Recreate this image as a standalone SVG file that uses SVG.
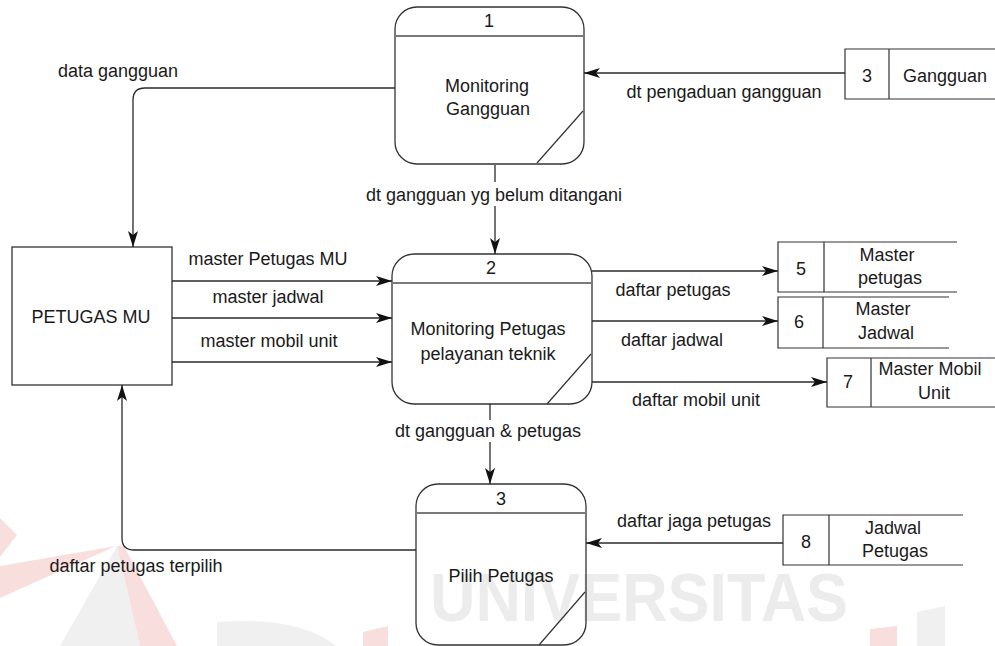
<svg xmlns="http://www.w3.org/2000/svg" width="995" height="646" viewBox="0 0 995 646">
  <style>
    text { font-family: "Liberation Sans", Arial, sans-serif; font-size: 18px; fill: #1a1a1a; }
    .c { text-anchor: middle; }
    .box { fill: none; stroke: #333; stroke-width: 1.3; }
    .hdr { stroke: #7a7a7a; stroke-width: 2; }
    .thin { stroke: #333; stroke-width: 1.2; fill: none; }
    .flow { fill: none; stroke: #2a2a2a; stroke-width: 1.3; marker-end: url(#arrow); }
    .wm-pink { fill: #f9dede; }
    .wm-gray { fill: #f0f0f0; }
  </style>
  <defs>
    <marker id="arrow" viewBox="0 0 16 10" refX="16" refY="5" markerWidth="16" markerHeight="10" markerUnits="userSpaceOnUse" orient="auto">
      <path d="M0,0 L16,5 L0,10 L4,5 z" fill="#111"/>
    </marker>
  </defs>

  <rect width="995" height="646" fill="#fff"/>

  <!-- background watermark -->
  <g id="watermark">
    <polygon class="wm-pink" points="0,518 17,535 0,557"/>
    <polygon class="wm-pink" points="0,566 116,546 0,598"/>
    <polygon class="wm-gray" points="117,546 60,646 140,646"/>
    <polygon class="wm-pink" points="117,546 124,546 177,646 140,646"/>
    <path class="wm-gray" d="M217,646 L217,622 Q300,616 336,646 Z"/>
    <polygon class="wm-pink" points="363,632 388,626 388,646 363,646"/>
    <polygon class="wm-pink" points="870,629 897,626 897,646 870,646"/>
    <polygon class="wm-gray" points="917,612 945,606 945,646 917,646"/>
    <text x="430" y="621" textLength="418" lengthAdjust="spacingAndGlyphs" style="font-size:68px;font-weight:bold;fill:#ececec">UNIVERSITAS</text>
  </g>

  <!-- external entity -->
  <g id="petugas-mu">
    <rect class="box" x="12" y="247" width="160" height="138"/>
    <text class="c" x="91" y="323">PETUGAS MU</text>
  </g>

  <!-- processes -->
  <g id="proc-1">
    <rect class="box" x="395" y="7" width="189" height="157" rx="22"/>
    <line class="hdr" x1="395" y1="36" x2="584" y2="36"/>
    <line class="thin" x1="583" y1="111" x2="537" y2="163"/>
    <text class="c" x="489" y="27">1</text>
    <text class="c" x="487" y="92">Monitoring</text>
    <text class="c" x="488" y="115">Gangguan</text>
  </g>

  <g id="proc-2">
    <rect class="box" x="392" y="254" width="200" height="150" rx="22"/>
    <line class="hdr" x1="392" y1="283" x2="592" y2="283"/>
    <line class="thin" x1="591" y1="354" x2="547" y2="404"/>
    <text class="c" x="491" y="274">2</text>
    <text class="c" x="488" y="335">Monitoring Petugas</text>
    <text class="c" x="488" y="360">pelayanan teknik</text>
  </g>

  <g id="proc-3">
    <rect class="box" x="416" y="484" width="170" height="161" rx="22"/>
    <line class="hdr" x1="416" y1="513" x2="586" y2="513"/>
    <line class="thin" x1="585" y1="592" x2="539" y2="645"/>
    <text class="c" x="501" y="505">3</text>
    <text class="c" x="501" y="582">Pilih Petugas</text>
  </g>

  <!-- data stores -->
  <g id="store-3">
    <path class="thin" d="M995,49 H845 V99 H995 M889,49 V99"/>
    <text class="c" x="867" y="82">3</text>
    <text class="c" x="945" y="82">Gangguan</text>
  </g>

  <g id="store-5">
    <path class="thin" d="M957,242 H778 V292 H957 M824,242 V292"/>
    <text class="c" x="801" y="275">5</text>
    <text class="c" x="887" y="261">Master</text>
    <text class="c" x="890" y="284">petugas</text>
  </g>

  <g id="store-6">
    <path class="thin" d="M949,297 H778 V348 H949 M823,297 V348"/>
    <text class="c" x="799" y="328">6</text>
    <text class="c" x="883" y="315">Master</text>
    <text class="c" x="886" y="339">Jadwal</text>
  </g>

  <g id="store-7">
    <path class="thin" d="M995,358 H827 V407 H995 M871,358 V407"/>
    <text class="c" x="848" y="388">7</text>
    <text class="c" x="930" y="375">Master Mobil</text>
    <text class="c" x="934" y="399">Unit</text>
  </g>

  <g id="store-8">
    <path class="thin" d="M963,515 H783 V565 H963 M829,515 V565"/>
    <text class="c" x="806" y="548">8</text>
    <text class="c" x="893" y="534">Jadwal</text>
    <text class="c" x="895" y="557">Petugas</text>
  </g>

  <!-- data flows -->
  <g id="connectors">
    <path class="flow" d="M845,73 H584"/>
    <path class="flow" d="M395,88 H145 Q133,88 133,100 V247"/>
    <path class="flow" d="M495,165 V254"/>
    <path class="flow" d="M172,281 H392"/>
    <path class="flow" d="M172,318 H392"/>
    <path class="flow" d="M172,362 H392"/>
    <path class="flow" d="M592,271 H778"/>
    <path class="flow" d="M592,321 H778"/>
    <path class="flow" d="M592,382 H827"/>
    <path class="flow" d="M490,404 V484"/>
    <path class="flow" d="M783,543 H586"/>
    <path class="flow" d="M416,550 H134 Q122,550 122,538 V385"/>
  </g>

  <!-- flow labels -->
  <g id="labels">
    <text class="c" x="118" y="77">data gangguan</text>
    <text class="c" x="724" y="98">dt pengaduan gangguan</text>
    <rect x="360" y="182" width="270" height="24" fill="#fff"/>
    <text class="c" x="494" y="201">dt gangguan yg belum ditangani</text>
    <text class="c" x="268" y="265">master Petugas MU</text>
    <text class="c" x="268" y="303">master jadwal</text>
    <text class="c" x="269" y="347">master mobil unit</text>
    <text class="c" x="673" y="296">daftar petugas</text>
    <text class="c" x="672" y="346">daftar jadwal</text>
    <text class="c" x="696" y="406">daftar mobil unit</text>
    <rect x="388" y="420" width="200" height="22" fill="#fff"/>
    <text class="c" x="488" y="437">dt gangguan &amp; petugas</text>
    <text class="c" x="694" y="527">daftar jaga petugas</text>
    <text class="c" x="136" y="572">daftar petugas terpilih</text>
  </g>
</svg>
